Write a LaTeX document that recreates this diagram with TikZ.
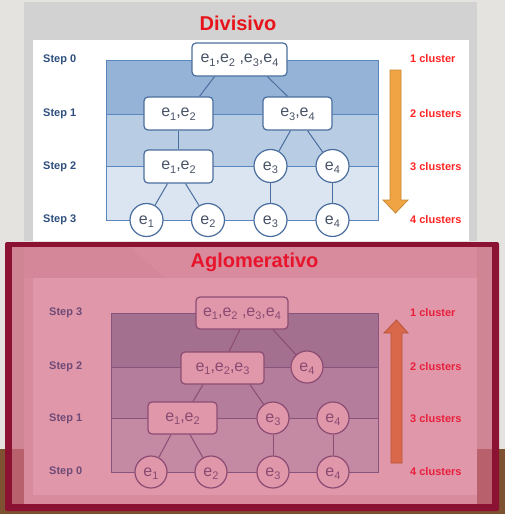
\documentclass[tikz,border=0pt]{standalone}
\usepackage{fontspec}
\setmainfont{Liberation Sans}
\usetikzlibrary{calc}
\definecolor{slidebg}{HTML}{E4E3DF}
\definecolor{wood}{HTML}{7E5230}
\definecolor{graypanel}{HTML}{D2D2D2}
\definecolor{divred}{HTML}{E8141C}
\definecolor{tb1}{HTML}{95B3D7}
\definecolor{tb2}{HTML}{B8CCE4}
\definecolor{tb3}{HTML}{DBE5F1}
\definecolor{tbline}{HTML}{5A86BE}
\definecolor{tnode}{HTML}{4A6E9E}
\definecolor{ttext}{HTML}{4A5468}
\definecolor{tstep}{HTML}{2E4E7E}
\definecolor{tclus}{HTML}{FF2424}
\definecolor{tarrow}{HTML}{F0A444}
\definecolor{tarrowline}{HTML}{C68A34}
\definecolor{frame}{HTML}{8B1232}
\definecolor{pinkdark}{HTML}{D08595}
\definecolor{pinkwood}{HTML}{B8606C}
\definecolor{pinkmid}{HTML}{D78B9D}
\definecolor{pinklight}{HTML}{E097AA}
\definecolor{bb1}{HTML}{A3708F}
\definecolor{bb2}{HTML}{B37D9B}
\definecolor{bb3}{HTML}{C58AA3}
\definecolor{bbline}{HTML}{87557C}
\definecolor{bnode}{HTML}{8C4C74}
\definecolor{btext}{HTML}{8A4A72}
\definecolor{bstep}{HTML}{6E4A76}
\definecolor{bclus}{HTML}{E8203C}
\definecolor{aglred}{HTML}{E8142C}
\definecolor{barrow}{HTML}{D9684A}
\definecolor{barrowline}{HTML}{B85538}
\newcommand\esub[1]{\raisebox{-3.6pt}[0pt][0pt]{\fontsize{11}{10}\selectfont #1}}
\tikzset{
  titletext/.style={font=\fontsize{20}{20}\selectfont\bfseries, inner sep=0pt},
  steplabel/.style={font=\fontsize{11}{11}\selectfont\bfseries, anchor=west, inner sep=0pt},
  cluslabel/.style={font=\fontsize{11}{11}\selectfont\bfseries, anchor=west, inner sep=0pt},
  ebox/.style={rounded corners=4pt, line width=1.2pt, minimum height=33pt, inner sep=0pt,
    font=\fontsize{16}{16}\selectfont},
  ecirc/.style={circle, line width=1.2pt, minimum size=33pt, inner sep=0pt,
    font=\fontsize{16}{16}\selectfont},
  tstyle/.style={draw=tnode, fill=white, text=ttext},
  bstyle/.style={draw=bnode, fill=pinklight, text=btext},
  tedge/.style={draw=tnode, line width=1pt},
  bedge/.style={draw=bnode, line width=1pt},
}
\begin{document}
\begin{tikzpicture}[x=1pt,y=-1pt]
\useasboundingbox (0,0) rectangle (505,514);
% slide background and floor
\fill[slidebg] (0,0) rectangle (505,514);
\fill[wood] (0,449) rectangle (505,514);
% ---------------- top: Divisivo ----------------
\fill[graypanel] (24,2) rectangle (477,241);
\fill[white] (33,40) rectangle (469,241);
\node[titletext, text=divred] (tt) at (238,23) {Divisivo};
\fill[tb1] (106,60) rectangle (378,114);
\fill[tb2] (106,114) rectangle (378,166);
\fill[tb3] (106,166) rectangle (378,220);
\draw[tbline, line width=1pt] (106,60) rectangle (378,220);
\draw[tbline, line width=1pt] (106,114) -- (378,114);
\draw[tbline, line width=1pt] (106,166) -- (378,166);
\node[steplabel, text=tstep] (ts0) at (43,60) {Step 0};
\node[steplabel, text=tstep] (ts1) at (43,114) {Step 1};
\node[steplabel, text=tstep] (ts2) at (43,167) {Step 2};
\node[steplabel, text=tstep] (ts3) at (43,220) {Step 3};
\node[cluslabel, text=tclus] (tc0) at (410,59) {1 cluster};
\node[cluslabel, text=tclus] (tc1) at (410,114) {2 clusters};
\node[cluslabel, text=tclus] (tc2) at (410,167) {3 clusters};
\node[cluslabel, text=tclus] (tc3) at (410,220) {4 clusters};
\filldraw[fill=tarrow, draw=tarrowline, line width=0.8pt]
  (390,70) -- (401,70) -- (401,200) -- (408,200) -- (395.5,213) -- (383,200) -- (390,200) -- cycle;
\node[ebox, tstyle, minimum width=95pt] (d0) at (239.5,59.5)
  {e\esub{1},e\esub{2} ,e\esub{3},e\esub{4}};
\node[ebox, tstyle, minimum width=69pt] (d1a) at (178.5,113.5) {e\esub{1},e\esub{2}};
\node[ebox, tstyle, minimum width=69pt] (d1b) at (297.5,113.5) {e\esub{3},e\esub{4}};
\node[ebox, tstyle, minimum width=69pt] (d2a) at (178.5,166.5) {e\esub{1},e\esub{2}};
\node[ecirc, tstyle] (d2c) at (270.5,166) {e\esub{3}};
\node[ecirc, tstyle] (d2d) at (332.5,166) {e\esub{4}};
\node[ecirc, tstyle] (d3a) at (146.5,220) {e\esub{1}};
\node[ecirc, tstyle] (d3b) at (208,220) {e\esub{2}};
\node[ecirc, tstyle] (d3c) at (270.5,220) {e\esub{3}};
\node[ecirc, tstyle] (d3d) at (332.5,220) {e\esub{4}};
\draw[tedge] ($(d0.south)+(-25,0)$) -- ($(d1a.north)+(21,0)$);
\draw[tedge] ($(d0.south)+(28,0)$) -- ($(d1b.north)+(-10,0)$);
\draw[tedge] (d1a.south) -- (d2a.north);
\draw[tedge] ($(d1b.south)+(-7,0)$) -- (d2c);
\draw[tedge] ($(d1b.south)+(10,0)$) -- (d2d);
\draw[tedge] ($(d2a.south)+(-11,0)$) -- (d3a);
\draw[tedge] ($(d2a.south)+(7,0)$) -- (d3b);
\draw[tedge] (d2c) -- (d3c);
\draw[tedge] (d2d) -- (d3d);
% ---------------- bottom: Aglomerativo ----------------
\fill[frame, rounded corners=2pt] (5,242) rectangle (499,511);
\fill[pinkdark] (12,247) rectangle (492,504);
\fill[pinkwood] (12,449) rectangle (24,504);
\fill[pinkwood] (477,449) rectangle (492,504);
\fill[pinkmid] (24,247) rectangle (477,504);
\fill[pinkdark!60!pinkmid] (24,247) -- (130,247) -- (165,278) -- (24,278) -- cycle;
\fill[pinklight] (33,278) rectangle (477,495);
\node[titletext, text=aglred] (bt) at (254.5,262) {Aglomerativo};
\fill[bb1] (111,313) rectangle (378,367);
\fill[bb2] (111,367) rectangle (378,418);
\fill[bb3] (111,418) rectangle (378,472);
\draw[bbline, line width=1pt] (111,313) rectangle (378,472);
\draw[bbline, line width=1pt] (111,367) -- (378,367);
\draw[bbline, line width=1pt] (111,418) -- (378,418);
\node[steplabel, text=bstep] (bs3) at (49,313) {Step 3};
\node[steplabel, text=bstep] (bs2) at (49,367) {Step 2};
\node[steplabel, text=bstep] (bs1) at (49,419) {Step 1};
\node[steplabel, text=bstep] (bs0) at (49,472) {Step 0};
\node[cluslabel, text=bclus] (bc3) at (410,313) {1 cluster};
\node[cluslabel, text=bclus] (bc2) at (410,367) {2 clusters};
\node[cluslabel, text=bclus] (bc1) at (410,419) {3 clusters};
\node[cluslabel, text=bclus] (bc0) at (410,472) {4 clusters};
\filldraw[fill=barrow, draw=barrowline, line width=0.8pt]
  (391,463) -- (402,463) -- (402,333) -- (408,333) -- (396.5,320) -- (384,333) -- (391,333) -- cycle;
\node[ebox, bstyle, minimum width=92pt, minimum height=32pt] (a3) at (242,313)
  {e\esub{1},e\esub{2} ,e\esub{3},e\esub{4}};
\node[ebox, bstyle, minimum width=83pt, minimum height=32pt] (a2a) at (222.5,368)
  {e\esub{1},e\esub{2},e\esub{3}};
\node[ecirc, bstyle, minimum size=32pt] (a2b) at (307,367) {e\esub{4}};
\node[ebox, bstyle, minimum width=69pt, minimum height=32pt] (a1a) at (182.5,418)
  {e\esub{1},e\esub{2}};
\node[ecirc, bstyle, minimum size=32pt] (a1b) at (273,418) {e\esub{3}};
\node[ecirc, bstyle, minimum size=32pt] (a1c) at (333,418) {e\esub{4}};
\node[ecirc, bstyle, minimum size=32pt] (a0a) at (151,472) {e\esub{1}};
\node[ecirc, bstyle, minimum size=32pt] (a0b) at (211,472) {e\esub{2}};
\node[ecirc, bstyle, minimum size=32pt] (a0c) at (273,472) {e\esub{3}};
\node[ecirc, bstyle, minimum size=32pt] (a0d) at (333,472) {e\esub{4}};
\draw[bedge] ($(a3.south)+(-2,0)$) -- ($(a2a.north)+(6.5,0)$);
\draw[bedge] ($(a3.south)+(31,0)$) -- (a2b);
\draw[bedge] ($(a2a.south)+(-19.5,0)$) -- ($(a1a.north)+(10.5,0)$);
\draw[bedge] ($(a2a.south)+(27.5,0)$) -- (a1b);
\draw[bedge] ($(a1a.south)+(-11.5,0)$) -- (a0a);
\draw[bedge] ($(a1a.south)+(7.5,0)$) -- (a0b);
\draw[bedge] (a1b) -- (a0c);
\draw[bedge] (a1c) -- (a0d);
\end{tikzpicture}
\end{document}
